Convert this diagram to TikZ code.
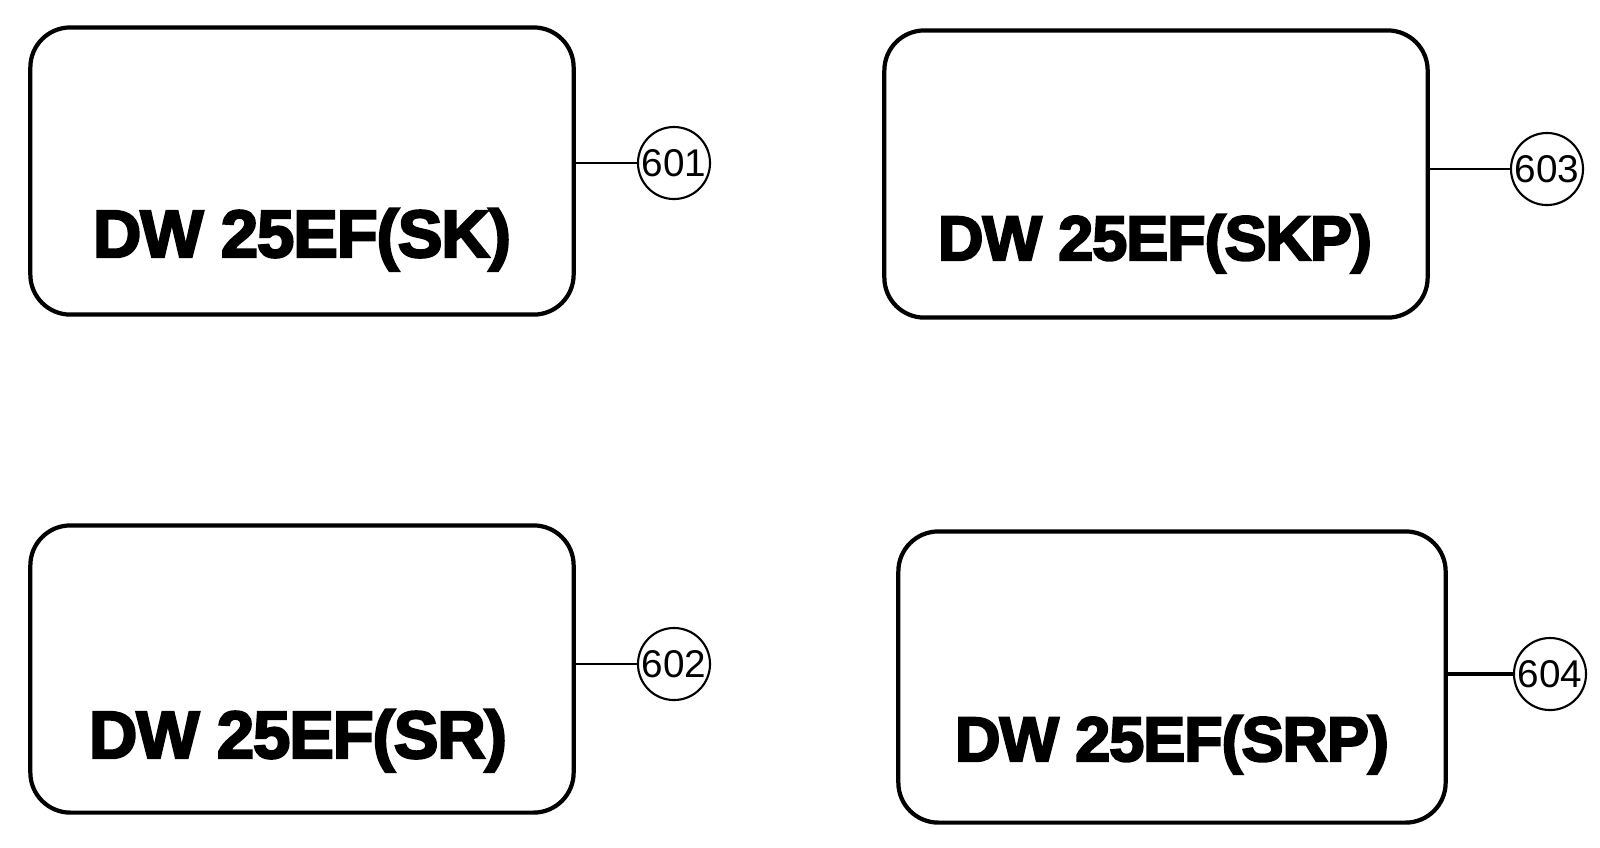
\documentclass[tikz,border=0pt]{standalone}
\usepackage{fontspec}
\setmainfont{Liberation Sans}
\newfontfamily\platefont{Liberation Sans}[BoldFeatures={FakeBold=3.5},LetterSpace=-1.5]
\usetikzlibrary{positioning}
\tikzstyle{plate}=[draw,line width=1.2pt,rounded corners=.4cm,minimum
width=5.43cm,minimum height=2.87cm]
\tikzstyle{callout}=[draw,circle,line width=.6pt,inner sep=0pt,minimum
size=.72cm,font=\fontsize{11}{13}\selectfont]
\tikzstyle{model}=[anchor=base,inner sep=0pt,
  font=\platefont\bfseries\fontsize{19}{21}\selectfont]

\begin{document}
\begin{tikzpicture}[x=.01cm, y=-.01cm]
  \tikzstyle{lead}=[line width=.6pt]
  \useasboundingbox (0,0) rectangle (1600,847);

  \node[plate] (sk) at (302,171) {};
  \node[plate] (sr) at (302,669) {};
  \node[plate] (skp) at (1156,174) {};
  \node[plate, minimum width=5.47cm, minimum height=2.91cm] (srp) at (1172,677) {};

  \node[model] at (302,257) {DW 25EF(SK)};
  \node[model] at (298,758) {DW 25EF(SR)};
  \node[model, scale=.94] at (1155,260) {DW 25EF(SKP)};
  \node[model, scale=.94] at (1172,761) {DW 25EF(SRP)};

  \node[callout] (601) at (674,163) {601};
  \node[callout] (602) at (674,664) {602};
  \node[callout] (603) at (1547,169) {603};
  \node[callout] (604) at (1550,674) {604};

  \draw[lead] (sk.east |- 601) -- (601);
  \draw[lead] (sr.east |- 602) -- (602);
  \draw[lead] (skp.east |- 603) -- (603);
  \draw[lead, line width=1.2pt] (srp.east |- 604) -- (604);
\end{tikzpicture}
\end{document}
